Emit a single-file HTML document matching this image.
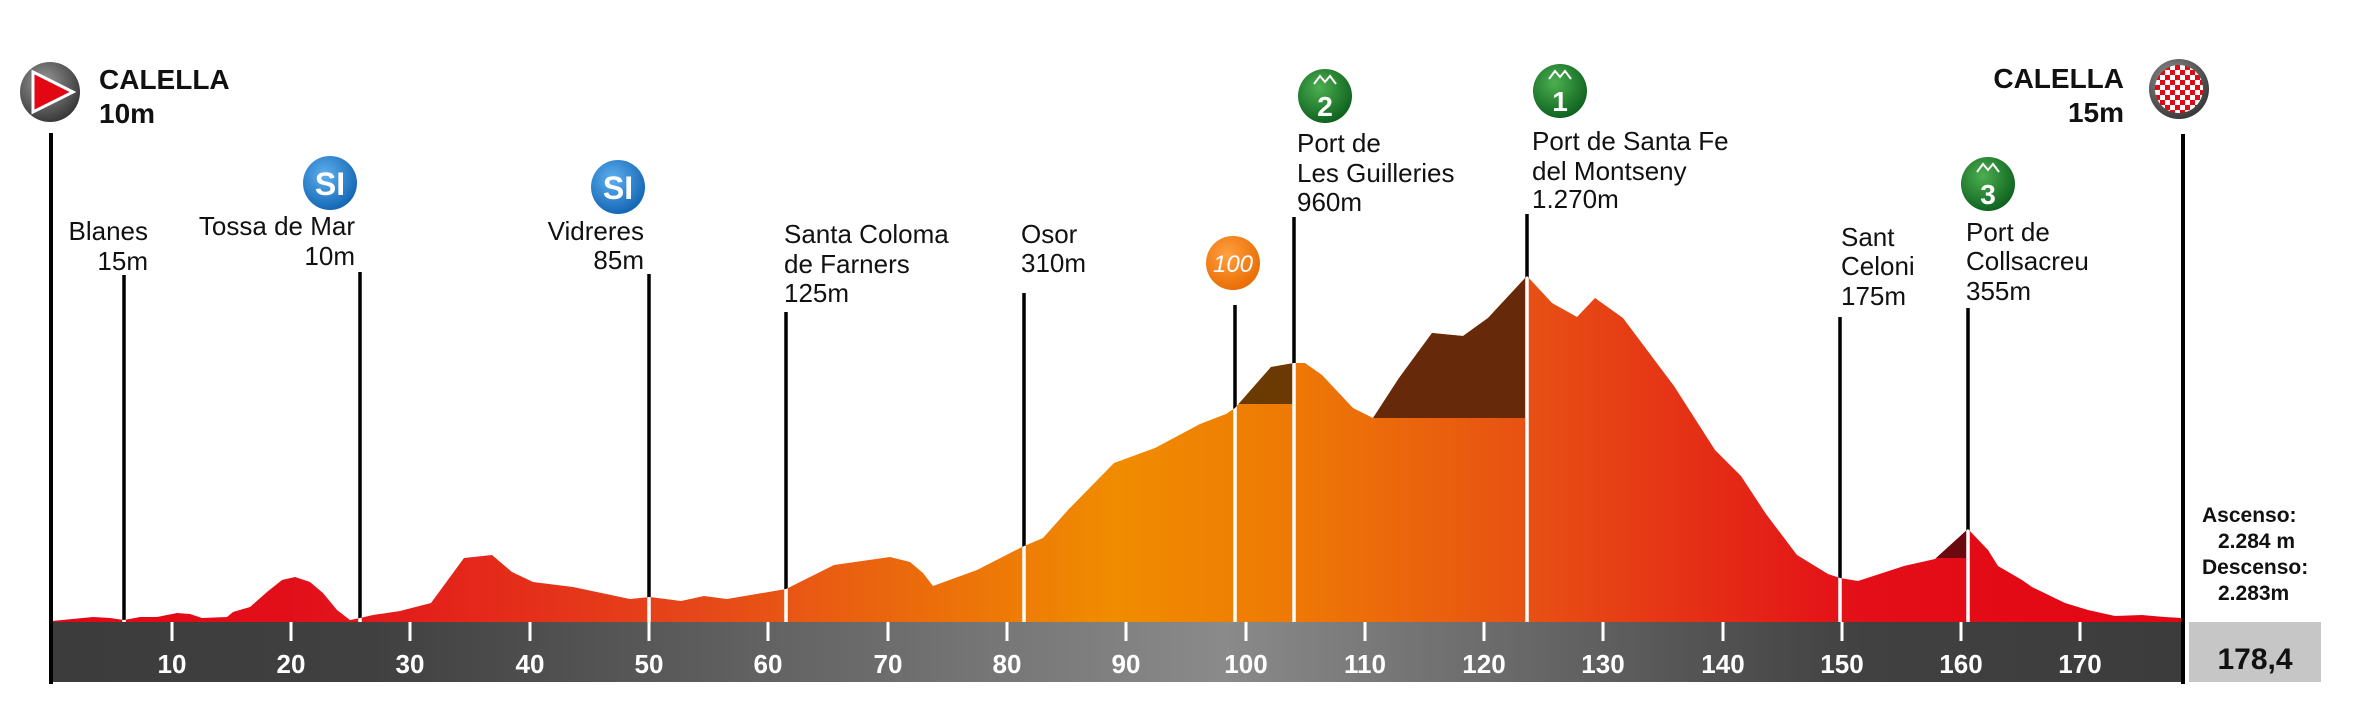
<!DOCTYPE html>
<html><head><meta charset="utf-8"><style>
html,body{margin:0;padding:0;background:#fff;}
svg{display:block;}
text{font-family:"Liberation Sans",sans-serif;fill:#111;}
.l{font-size:26px;}
.b{font-size:28px;font-weight:bold;}
.ax{font-size:26px;font-weight:bold;fill:#fff;text-anchor:middle;}
.st{font-size:21px;font-weight:bold;}
</style></head><body>
<svg width="2355" height="712" viewBox="0 0 2355 712" xmlns="http://www.w3.org/2000/svg">
<defs>
<linearGradient id="pf" gradientUnits="userSpaceOnUse" x1="52" y1="0" x2="2181" y2="0">
<stop offset="0" stop-color="#e30613"/><stop offset="0.12" stop-color="#e2101a"/>
<stop offset="0.3" stop-color="#e6461a"/><stop offset="0.5" stop-color="#f08c00"/>
<stop offset="0.58" stop-color="#ee7a05"/><stop offset="0.7" stop-color="#e74e14"/>
<stop offset="0.85" stop-color="#e30e18"/><stop offset="1" stop-color="#e30613"/>
</linearGradient>
<linearGradient id="bar" x1="0" y1="0" x2="1" y2="0">
<stop offset="0" stop-color="#3c3c3c"/><stop offset="0.15" stop-color="#404040"/>
<stop offset="0.55" stop-color="#8a8a8a"/><stop offset="0.85" stop-color="#414141"/>
<stop offset="1" stop-color="#3c3c3c"/>
</linearGradient>
<radialGradient id="si" cx="0.4" cy="0.35" r="0.7"><stop offset="0" stop-color="#5fb0f0"/><stop offset="1" stop-color="#0f62b0"/></radialGradient>
<radialGradient id="gr" cx="0.4" cy="0.35" r="0.7"><stop offset="0" stop-color="#4caf50"/><stop offset="1" stop-color="#0b5e1c"/></radialGradient>
<radialGradient id="or" cx="0.4" cy="0.35" r="0.7"><stop offset="0" stop-color="#ffa040"/><stop offset="1" stop-color="#e86a00"/></radialGradient>
<radialGradient id="gy" cx="0.4" cy="0.35" r="0.7"><stop offset="0" stop-color="#9a9a9a"/><stop offset="1" stop-color="#333"/></radialGradient>
<pattern id="chk" width="10" height="10" patternUnits="userSpaceOnUse"><rect width="10" height="10" fill="#fff"/><rect width="5" height="5" fill="#e30613"/><rect x="5" y="5" width="5" height="5" fill="#e30613"/></pattern>
<clipPath id="cp"><path id="pp" d="M52,621 L93,617 110,618 124,620 140,617 157,617 177,613 190,614 202,618 227,617 233,612 250,607 267,592 282,580 295,577 310,582 323,593 337,610 350,620 360,618 373,615 400,611 431,603 464,558 492,555 512,572 533,582 573,587 630,599 650,597 681,601 704,596 727,599 786,589 798,583 834,565 890,557 910,562 923,573 933,586 977,570 1022,547 1043,538 1068,510 1114,463 1155,448 1200,424 1226,414 1235,408 1271,367 1294,363 1305,363 1322,375 1353,408 1373,418 1399,378 1432,333 1463,336 1488,318 1527,276 1552,303 1577,317 1595,298 1623,318 1644,346 1674,386 1715,450 1741,476 1766,514 1797,555 1828,574 1840,578 1858,581 1904,566 1935,559 1968,529 1988,550 1998,566 2022,580 2032,587 2065,603 2088,610 2115,616 2142,615 2165,617 2181,618 2181,622 52,622 Z"/></clipPath>
</defs>

<!-- black marker lines -->
<g stroke="#000" stroke-width="3.5">
<line x1="124" y1="275" x2="124" y2="622"/>
<line x1="360" y1="272" x2="360" y2="622"/>
<line x1="649" y1="274" x2="649" y2="622"/>
<line x1="786" y1="312" x2="786" y2="622"/>
<line x1="1024" y1="293" x2="1024" y2="622"/>
<line x1="1235" y1="305" x2="1235" y2="622"/>
<line x1="1294" y1="217" x2="1294" y2="622"/>
<line x1="1527" y1="214" x2="1527" y2="622"/>
<line x1="1840" y1="317" x2="1840" y2="622"/>
<line x1="1968" y1="308" x2="1968" y2="622"/>
</g>

<!-- profile -->
<g clip-path="url(#cp)">
<rect x="0" y="0" width="2355" height="712" fill="url(#pf)"/>
<rect x="1235" y="0" width="59" height="404" fill="#6a3a02"/>
<rect x="1373" y="0" width="154" height="418" fill="#66290a"/>
<rect x="1935" y="0" width="33" height="558" fill="#6b0810"/>
<g stroke="#fff" stroke-width="3.5">
<line x1="124" y1="0" x2="124" y2="622"/><line x1="360" y1="0" x2="360" y2="622"/>
<line x1="649" y1="0" x2="649" y2="622"/><line x1="786" y1="0" x2="786" y2="622"/>
<line x1="1024" y1="0" x2="1024" y2="622"/><line x1="1235" y1="0" x2="1235" y2="622"/>
<line x1="1294" y1="0" x2="1294" y2="622"/><line x1="1527" y1="0" x2="1527" y2="622"/>
<line x1="1840" y1="0" x2="1840" y2="622"/><line x1="1968" y1="0" x2="1968" y2="622"/>
</g>
</g>

<!-- axis bar -->
<rect x="53" y="622" width="2128" height="60" fill="url(#bar)"/>
<g stroke="#fff" stroke-width="3">
<line x1="172" y1="622" x2="172" y2="641"/><line x1="291" y1="622" x2="291" y2="641"/>
<line x1="410" y1="622" x2="410" y2="641"/><line x1="530" y1="622" x2="530" y2="641"/>
<line x1="649" y1="622" x2="649" y2="641"/><line x1="768" y1="622" x2="768" y2="641"/>
<line x1="888" y1="622" x2="888" y2="641"/><line x1="1007" y1="622" x2="1007" y2="641"/>
<line x1="1126" y1="622" x2="1126" y2="641"/><line x1="1246" y1="622" x2="1246" y2="641"/>
<line x1="1365" y1="622" x2="1365" y2="641"/><line x1="1484" y1="622" x2="1484" y2="641"/>
<line x1="1603" y1="622" x2="1603" y2="641"/><line x1="1723" y1="622" x2="1723" y2="641"/>
<line x1="1842" y1="622" x2="1842" y2="641"/><line x1="1961" y1="622" x2="1961" y2="641"/>
<line x1="2080" y1="622" x2="2080" y2="641"/>
</g>
<g class="ax">
<text x="172" y="673" class="ax">10</text><text x="291" y="673" class="ax">20</text>
<text x="410" y="673" class="ax">30</text><text x="530" y="673" class="ax">40</text>
<text x="649" y="673" class="ax">50</text><text x="768" y="673" class="ax">60</text>
<text x="888" y="673" class="ax">70</text><text x="1007" y="673" class="ax">80</text>
<text x="1126" y="673" class="ax">90</text><text x="1246" y="673" class="ax">100</text>
<text x="1365" y="673" class="ax">110</text><text x="1484" y="673" class="ax">120</text>
<text x="1603" y="673" class="ax">130</text><text x="1723" y="673" class="ax">140</text>
<text x="1842" y="673" class="ax">150</text><text x="1961" y="673" class="ax">160</text>
<text x="2080" y="673" class="ax">170</text>
</g>
<line x1="51" y1="133" x2="51" y2="684" stroke="#000" stroke-width="4"/>
<line x1="2183" y1="134" x2="2183" y2="684" stroke="#000" stroke-width="4"/>
<rect x="2189" y="622" width="132" height="60" fill="#c6c6c6"/>
<text x="2255" y="669" text-anchor="middle" style="font-size:30px;font-weight:bold">178,4</text>

<!-- stats -->
<text x="2202" y="522" class="st">Ascenso:</text>
<text x="2218" y="548" class="st">2.284 m</text>
<text x="2202" y="574" class="st">Descenso:</text>
<text x="2218" y="600" class="st">2.283m</text>

<!-- start -->
<circle cx="50" cy="92" r="30" fill="url(#gy)"/>
<polygon points="33,72 73,92 33,112" fill="#e30613" stroke="#fff" stroke-width="3"/>
<text x="99" y="89" class="b">CALELLA</text>
<text x="99" y="123" class="b">10m</text>
<!-- finish -->
<circle cx="2179" cy="89" r="30" fill="url(#gy)"/>
<circle cx="2179" cy="89" r="24" fill="url(#chk)"/>
<text x="2124" y="88" class="b" text-anchor="end">CALELLA</text>
<text x="2124" y="122" class="b" text-anchor="end">15m</text>

<!-- labels -->
<g class="l">
<text x="148" y="240" text-anchor="end" class="l">Blanes</text>
<text x="148" y="270" text-anchor="end" class="l">15m</text>
<text x="355" y="235" text-anchor="end" class="l">Tossa de Mar</text>
<text x="355" y="265" text-anchor="end" class="l">10m</text>
<text x="644" y="240" text-anchor="end" class="l">Vidreres</text>
<text x="644" y="269" text-anchor="end" class="l">85m</text>
<text x="784" y="243" class="l">Santa Coloma</text>
<text x="784" y="273" class="l">de Farners</text>
<text x="784" y="302" class="l">125m</text>
<text x="1021" y="243" class="l">Osor</text>
<text x="1021" y="272" class="l">310m</text>
<text x="1297" y="152" class="l">Port de</text>
<text x="1297" y="182" class="l">Les Guilleries</text>
<text x="1297" y="211" class="l">960m</text>
<text x="1532" y="150" class="l">Port de Santa Fe</text>
<text x="1532" y="180" class="l">del Montseny</text>
<text x="1532" y="208" class="l">1.270m</text>
<text x="1841" y="246" class="l">Sant</text>
<text x="1841" y="275" class="l">Celoni</text>
<text x="1841" y="305" class="l">175m</text>
<text x="1966" y="241" class="l">Port de</text>
<text x="1966" y="270" class="l">Collsacreu</text>
<text x="1966" y="300" class="l">355m</text>
</g>

<!-- icons -->
<g>
<circle cx="330" cy="183" r="27" fill="url(#si)"/>
<text x="330" y="195" text-anchor="middle" style="font-size:32px;font-weight:bold;fill:#fff">SI</text>
<circle cx="618" cy="187" r="27" fill="url(#si)"/>
<text x="618" y="199" text-anchor="middle" style="font-size:32px;font-weight:bold;fill:#fff">SI</text>
<circle cx="1233" cy="263" r="27" fill="url(#or)"/>
<text x="1233" y="272" text-anchor="middle" style="font-size:24px;font-style:italic;fill:#fff">100</text>
<circle cx="1325" cy="96" r="27" fill="url(#gr)"/>
<polyline points="1314,84 1320,76 1325,82 1330,76 1336,84" fill="none" stroke="#fff" stroke-width="2"/>
<text x="1325" y="116" text-anchor="middle" style="font-size:28px;font-weight:bold;fill:#fff">2</text>
<circle cx="1560" cy="91" r="27" fill="url(#gr)"/>
<polyline points="1549,79 1555,71 1560,77 1565,71 1571,79" fill="none" stroke="#fff" stroke-width="2"/>
<text x="1560" y="111" text-anchor="middle" style="font-size:28px;font-weight:bold;fill:#fff">1</text>
<circle cx="1988" cy="184" r="27" fill="url(#gr)"/>
<polyline points="1977,172 1983,164 1988,170 1993,164 1999,172" fill="none" stroke="#fff" stroke-width="2"/>
<text x="1988" y="204" text-anchor="middle" style="font-size:28px;font-weight:bold;fill:#fff">3</text>
</g>
</svg>
</body></html>
